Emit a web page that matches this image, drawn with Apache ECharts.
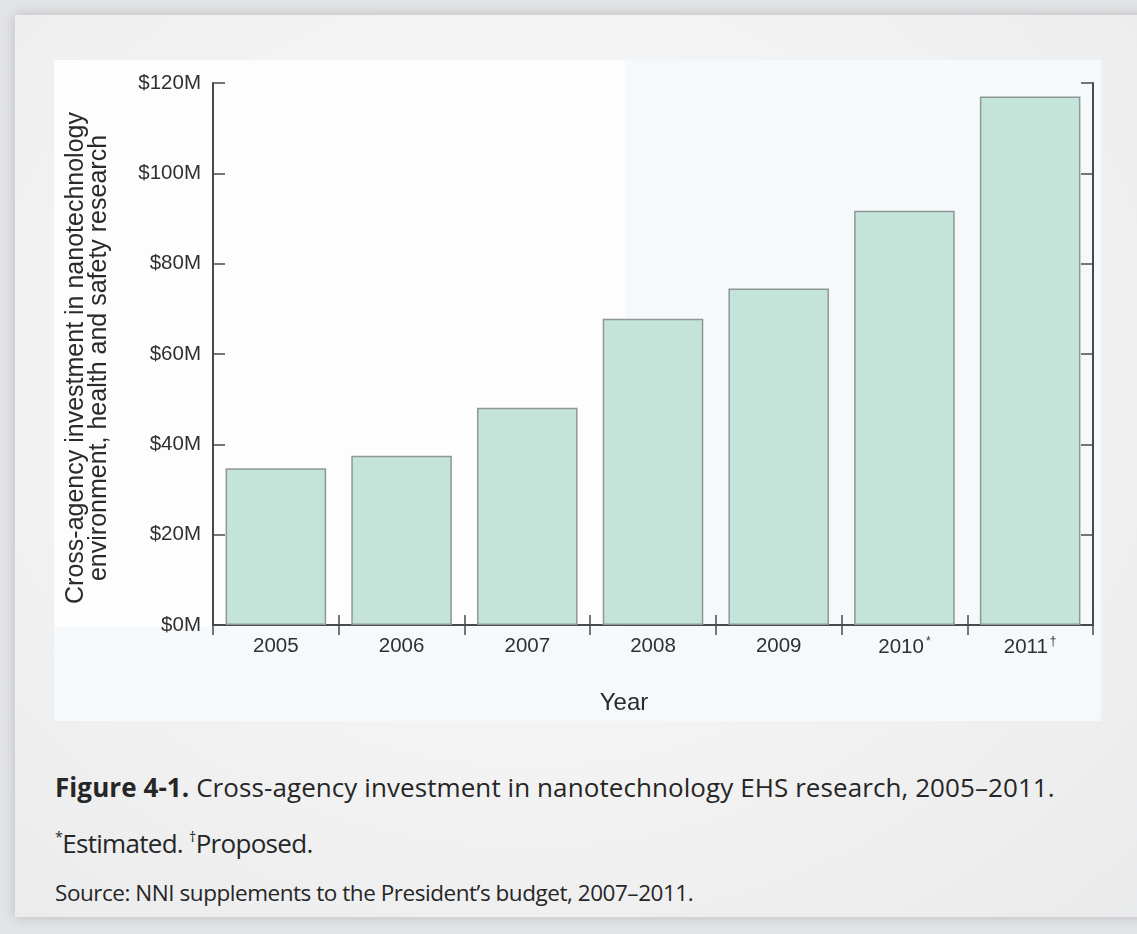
<!DOCTYPE html>
<html>
<head>
<meta charset="utf-8">
<script src="https://cdn.jsdelivr.net/npm/echarts@6/dist/echarts.min.js"></script>
<style>
  html, body { margin: 0; padding: 0; }
  body {
    width: 1137px; height: 934px; overflow: hidden; position: relative;
    background: #e3e4e6;
    font-family: "Liberation Sans", Arial, sans-serif;
  }
  .card {
    position: absolute; left: 15px; top: 15px; width: 1140px; height: 902px;
    background: radial-gradient(ellipse at 45% 40%, #fbfbfb 0%, #f1f1f2 60%, #e9eaeb 100%);
    box-shadow: 0 0 12px rgba(0,0,0,0.18);
  }
  .panel {
    position: absolute; left: 54px; top: 60px; width: 1047px; height: 661px;
    background: #f6f9fc;
  }
  .panel-light {
    position: absolute; left: 54px; top: 60px; width: 571px; height: 567px;
    background: #fdfdfd;
  }
  #chart { position: absolute; left: 54px; top: 60px; width: 1047px; height: 661px; }
  .cap {
    position: absolute; left: 55px; color: #262626; line-height: 1;
    font-family: "Open Sans", "Noto Sans", sans-serif; white-space: nowrap;
  }
  .cap b { font-weight: 700; }
  .cap sup { font-size: 55%; vertical-align: 0.75em; line-height: 0; }
</style>
</head>
<body>
<div class="card"></div>
<div class="panel"></div>
<div class="panel-light"></div>
<div id="chart"></div>
<div class="cap" style="top:774px;font-size:26px;letter-spacing:0.08px;"><b>Figure 4-1.</b> Cross-agency investment in nanotechnology EHS research, 2005–2011.</div>
<div class="cap" style="top:830px;font-size:26px;letter-spacing:-0.7px;"><sup>*</sup>Estimated. <sup>†</sup>Proposed.</div>
<div class="cap" style="top:882px;font-size:22.5px;letter-spacing:-0.46px;">Source: NNI supplements to the President’s budget, 2007–2011.</div>
<script>
// Fiscal years and the note mark that follows each one
const years = ['2005', '2006', '2007', '2008', '2009', '2010', '2011'];
const yearMarks = ['', '', '', '', '', '*', '†'];
// EHS research investment, millions of dollars
const investment = [34.7, 37.5, 48.1, 67.8, 74.5, 91.7, 117.0];
// Value axis: $0M to $120M in $20M steps
const yMin = 0, yMax = 120, yStep = 20;

const axisColor = '#4a4a4a';
const textColor = '#303030';
const labelFont = '"Liberation Sans", Arial, sans-serif';

const chart = echarts.init(document.getElementById('chart'), null, { renderer: 'canvas' });

const categories = years.map((y, i) => y + yearMarks[i]);

const tickStyle = { color: axisColor, width: 1.5 };
const lineStyle = { color: axisColor, width: 2 };

chart.setOption({
  animation: false,
  grid: { left: 159, top: 23, right: 8, bottom: 96, containLabel: false, outerBoundsMode: 'none' },
  xAxis: [
    {
      type: 'category',
      data: categories,
      position: 'bottom',
      axisLine: { show: true, lineStyle: lineStyle },
      axisTick: { show: true, inside: true, length: 10, lineStyle: tickStyle },
      axisLabel: {
        margin: 11,
        formatter: function (v, i) {
          const m = yearMarks[i];
          return m ? '{n|' + years[i] + '}{s|' + m + '}' : '{n|' + years[i] + '}';
        },
        rich: {
          n: { fontFamily: labelFont, fontSize: 20.5, color: textColor },
          s: { fontFamily: labelFont, fontSize: 12, color: textColor, verticalAlign: 'top', padding: [0, 0, 10, 2] }
        }
      },
      splitLine: { show: false }
    },
    {
      type: 'category',
      data: categories,
      position: 'top',
      axisLine: { show: true, lineStyle: lineStyle },
      axisTick: { show: true, inside: true, length: 10, lineStyle: tickStyle },
      axisLabel: { show: false },
      splitLine: { show: false }
    }
  ],
  yAxis: [
    {
      type: 'value',
      min: yMin, max: yMax, interval: yStep,
      position: 'left',
      name: 'Cross-agency investment in nanotechnology\nenvironment, health and safety research',
      nameLocation: 'middle',
      nameGap: 102,
      nameRotate: 90,
      nameTextStyle: { fontFamily: labelFont, fontSize: 25, color: '#2a2a2a', lineHeight: 23, padding: [0, 8, 0, 0] },
      axisLine: { show: true, lineStyle: lineStyle },
      axisTick: { show: true, inside: true, length: 12, lineStyle: tickStyle },
      axisLabel: {
        margin: 12,
        fontFamily: labelFont, fontSize: 20.5, color: textColor,
        formatter: v => '$' + v + 'M'
      },
      splitLine: { show: false }
    },
    {
      type: 'value',
      min: yMin, max: yMax, interval: yStep,
      position: 'right',
      axisLine: { show: true, lineStyle: lineStyle },
      axisTick: { show: true, inside: true, length: 12, lineStyle: tickStyle },
      axisLabel: { show: false },
      splitLine: { show: false }
    }
  ],
  graphic: [
    {
      type: 'text',
      x: 570, y: 643,
      style: {
        text: 'Year', font: '24px "Liberation Sans", Arial, sans-serif', fill: '#2a2a2a',
        align: 'center', verticalAlign: 'middle'
      }
    }
  ],
  series: [
    {
      type: 'bar',
      data: investment,
      xAxisIndex: 0,
      yAxisIndex: 0,
      barCategoryGap: '20%',
      itemStyle: { color: '#c5e4d9', borderColor: '#8e9894', borderWidth: 1.5 },
      z: 1
    }
  ]
});
</script>
</body>
</html>
